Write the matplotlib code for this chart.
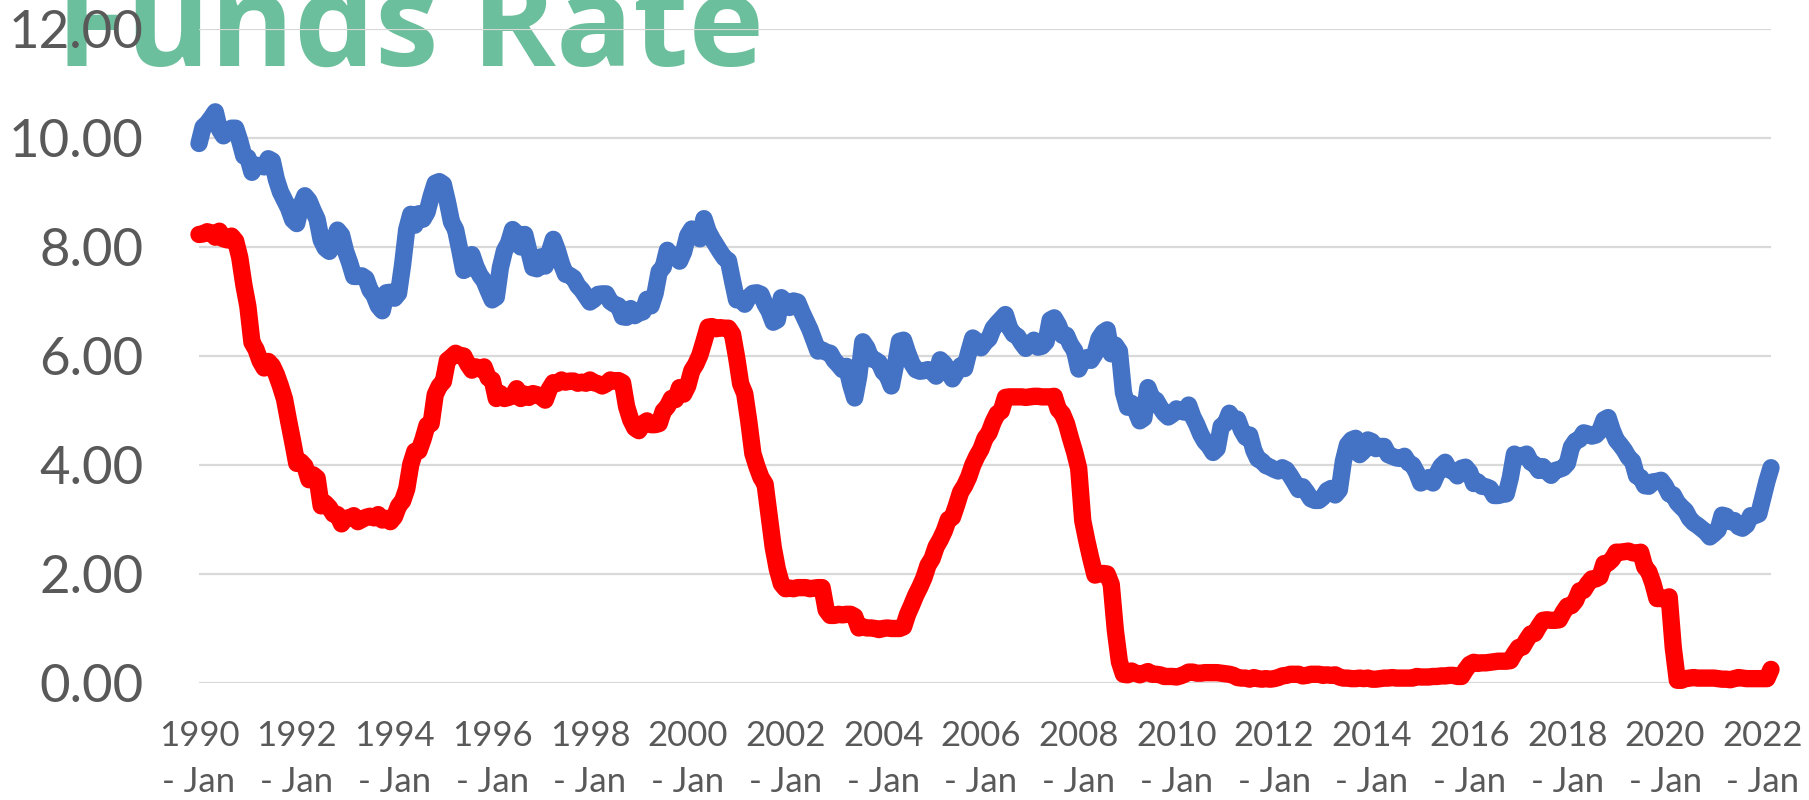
import matplotlib
matplotlib.use("Agg")
import matplotlib.pyplot as plt
import numpy as np
import pandas as pd

# Effective federal funds rate, monthly, Jan 1990 - Mar 2022
fed_funds = [
    8.23, 8.24, 8.28, 8.26, 8.18, 8.29, 8.15, 8.13, 8.20, 8.11, 7.81, 7.31,   # 1990
    6.91, 6.25, 6.12, 5.91, 5.78, 5.90, 5.82, 5.66, 5.45, 5.21, 4.81, 4.43,   # 1991
    4.03, 4.06, 3.98, 3.73, 3.82, 3.76, 3.25, 3.30, 3.22, 3.10, 3.09, 2.92,   # 1992
    3.02, 3.03, 3.07, 2.96, 3.00, 3.04, 3.06, 3.03, 3.09, 2.99, 3.02, 2.96,   # 1993
    3.05, 3.25, 3.34, 3.56, 4.01, 4.25, 4.26, 4.47, 4.73, 4.76, 5.29, 5.45,   # 1994
    5.53, 5.92, 5.98, 6.05, 6.01, 6.00, 5.85, 5.74, 5.80, 5.76, 5.80, 5.60,   # 1995
    5.56, 5.22, 5.31, 5.22, 5.24, 5.27, 5.40, 5.22, 5.30, 5.24, 5.31, 5.29,   # 1996
    5.25, 5.19, 5.39, 5.51, 5.50, 5.56, 5.52, 5.54, 5.54, 5.50, 5.52, 5.50,   # 1997
    5.56, 5.51, 5.49, 5.45, 5.49, 5.56, 5.54, 5.55, 5.51, 5.07, 4.83, 4.68,   # 1998
    4.63, 4.76, 4.81, 4.74, 4.74, 4.76, 4.99, 5.07, 5.22, 5.20, 5.42, 5.30,   # 1999
    5.45, 5.73, 5.85, 6.02, 6.27, 6.53, 6.54, 6.50, 6.52, 6.51, 6.51, 6.40,   # 2000
    5.98, 5.49, 5.31, 4.80, 4.21, 3.97, 3.77, 3.65, 3.07, 2.49, 2.09, 1.82,   # 2001
    1.73, 1.74, 1.73, 1.75, 1.75, 1.75, 1.73, 1.74, 1.75, 1.75, 1.34, 1.24,   # 2002
    1.24, 1.26, 1.25, 1.26, 1.26, 1.22, 1.01, 1.03, 1.01, 1.01, 1.00, 0.98,   # 2003
    1.00, 1.01, 1.00, 1.00, 1.00, 1.03, 1.26, 1.43, 1.61, 1.76, 1.93, 2.16,   # 2004
    2.28, 2.50, 2.63, 2.79, 3.00, 3.04, 3.26, 3.50, 3.62, 3.78, 4.00, 4.16,   # 2005
    4.29, 4.49, 4.59, 4.79, 4.94, 4.99, 5.24, 5.25, 5.25, 5.25, 5.25, 5.24,   # 2006
    5.25, 5.26, 5.26, 5.25, 5.25, 5.25, 5.26, 5.02, 4.94, 4.76, 4.49, 4.24,   # 2007
    3.94, 2.98, 2.61, 2.28, 1.98, 2.00, 2.01, 2.00, 1.81, 0.97, 0.39, 0.16,   # 2008
    0.15, 0.22, 0.18, 0.15, 0.18, 0.21, 0.16, 0.16, 0.15, 0.12, 0.12, 0.12,   # 2009
    0.11, 0.13, 0.16, 0.20, 0.20, 0.18, 0.18, 0.19, 0.19, 0.19, 0.19, 0.18,   # 2010
    0.17, 0.16, 0.14, 0.10, 0.09, 0.09, 0.07, 0.10, 0.08, 0.07, 0.08, 0.07,   # 2011
    0.08, 0.10, 0.13, 0.14, 0.16, 0.16, 0.16, 0.13, 0.14, 0.16, 0.16, 0.16,   # 2012
    0.14, 0.15, 0.14, 0.15, 0.11, 0.09, 0.09, 0.08, 0.08, 0.09, 0.08, 0.09,   # 2013
    0.07, 0.07, 0.08, 0.09, 0.09, 0.10, 0.09, 0.09, 0.09, 0.09, 0.09, 0.12,   # 2014
    0.11, 0.11, 0.11, 0.12, 0.12, 0.13, 0.13, 0.14, 0.14, 0.12, 0.12, 0.24,   # 2015
    0.34, 0.38, 0.36, 0.37, 0.37, 0.38, 0.39, 0.40, 0.40, 0.40, 0.41, 0.54,   # 2016
    0.65, 0.66, 0.79, 0.90, 0.91, 1.04, 1.15, 1.16, 1.15, 1.15, 1.16, 1.30,   # 2017
    1.41, 1.42, 1.51, 1.69, 1.70, 1.82, 1.91, 1.91, 1.95, 2.19, 2.20, 2.27,   # 2018
    2.40, 2.40, 2.41, 2.42, 2.39, 2.38, 2.40, 2.13, 2.04, 1.83, 1.55, 1.55,   # 2019
    1.55, 1.58, 0.65, 0.05, 0.05, 0.08, 0.09, 0.10, 0.09, 0.09, 0.09, 0.09,   # 2020
    0.09, 0.08, 0.07, 0.07, 0.06, 0.08, 0.10, 0.09, 0.08, 0.08, 0.08, 0.08,   # 2021
    0.08, 0.08, 0.25,                                                         # 2022
]

# 30-year fixed mortgage rate, monthly, Jan 1990 - Mar 2022
mortgage_30y = [
    9.90, 10.20, 10.27, 10.37, 10.48, 10.16, 10.04, 10.10, 10.18, 10.18, 9.95, 9.67,  # 1990
    9.64, 9.37, 9.50, 9.49, 9.47, 9.62, 9.58, 9.24, 9.01, 8.86, 8.71, 8.50,   # 1991
    8.43, 8.76, 8.94, 8.85, 8.67, 8.51, 8.13, 7.98, 7.92, 8.09, 8.31, 8.22,   # 1992
    7.92, 7.71, 7.46, 7.46, 7.47, 7.42, 7.21, 7.11, 6.92, 6.83, 7.16, 7.17,   # 1993
    7.06, 7.15, 7.68, 8.32, 8.60, 8.40, 8.61, 8.51, 8.64, 8.93, 9.17, 9.20,   # 1994
    9.15, 8.83, 8.46, 8.32, 7.96, 7.57, 7.61, 7.86, 7.64, 7.48, 7.38, 7.20,   # 1995
    7.03, 7.08, 7.62, 7.93, 8.07, 8.32, 8.25, 8.00, 8.23, 7.92, 7.62, 7.60,   # 1996
    7.82, 7.65, 7.90, 8.14, 7.94, 7.69, 7.50, 7.48, 7.43, 7.29, 7.21, 7.10,   # 1997
    6.99, 7.04, 7.13, 7.14, 7.14, 7.00, 6.95, 6.92, 6.72, 6.71, 6.87, 6.74,   # 1998
    6.79, 6.81, 7.04, 6.92, 7.15, 7.55, 7.63, 7.94, 7.82, 7.85, 7.74, 7.91,   # 1999
    8.21, 8.33, 8.24, 8.15, 8.52, 8.29, 8.15, 8.03, 7.91, 7.80, 7.75, 7.38,   # 2000
    7.03, 7.05, 6.95, 7.08, 7.15, 7.16, 7.13, 6.95, 6.82, 6.62, 6.66, 7.07,   # 2001
    7.00, 6.89, 7.01, 6.99, 6.81, 6.65, 6.49, 6.29, 6.09, 6.11, 6.07, 6.05,   # 2002
    5.92, 5.84, 5.75, 5.81, 5.48, 5.23, 5.63, 6.26, 6.15, 5.95, 5.93, 5.88,   # 2003
    5.71, 5.64, 5.45, 5.83, 6.27, 6.29, 6.06, 5.87, 5.75, 5.72, 5.73, 5.75,   # 2004
    5.71, 5.63, 5.93, 5.86, 5.72, 5.58, 5.70, 5.82, 5.77, 6.07, 6.33, 6.27,   # 2005
    6.15, 6.25, 6.32, 6.51, 6.60, 6.68, 6.76, 6.52, 6.40, 6.36, 6.24, 6.14,   # 2006
    6.22, 6.29, 6.16, 6.18, 6.26, 6.66, 6.70, 6.57, 6.38, 6.38, 6.21, 6.10,   # 2007
    5.76, 5.92, 5.97, 5.92, 6.04, 6.32, 6.43, 6.48, 6.04, 6.20, 6.09, 5.33,   # 2008
    5.06, 5.13, 5.00, 4.81, 4.86, 5.42, 5.22, 5.19, 5.06, 4.95, 4.88, 4.93,   # 2009
    5.03, 4.99, 4.97, 5.10, 4.89, 4.74, 4.56, 4.43, 4.35, 4.23, 4.30, 4.71,   # 2010
    4.76, 4.95, 4.84, 4.84, 4.64, 4.51, 4.55, 4.27, 4.11, 4.07, 3.99, 3.96,   # 2011
    3.92, 3.89, 3.95, 3.91, 3.80, 3.68, 3.55, 3.60, 3.50, 3.38, 3.35, 3.35,   # 2012
    3.41, 3.53, 3.57, 3.45, 3.54, 4.07, 4.37, 4.46, 4.49, 4.19, 4.26, 4.46,   # 2013
    4.43, 4.30, 4.34, 4.34, 4.19, 4.16, 4.13, 4.12, 4.16, 4.04, 4.00, 3.86,   # 2014
    3.67, 3.71, 3.77, 3.67, 3.84, 3.98, 4.05, 3.91, 3.89, 3.80, 3.94, 3.96,   # 2015
    3.87, 3.66, 3.69, 3.61, 3.60, 3.57, 3.44, 3.44, 3.46, 3.47, 3.77, 4.20,   # 2016
    4.15, 4.17, 4.20, 4.05, 4.01, 3.90, 3.97, 3.88, 3.81, 3.90, 3.92, 3.95,   # 2017
    4.03, 4.33, 4.44, 4.47, 4.59, 4.57, 4.53, 4.55, 4.63, 4.83, 4.87, 4.64,   # 2018
    4.46, 4.37, 4.27, 4.14, 4.07, 3.80, 3.77, 3.62, 3.61, 3.69, 3.70, 3.72,   # 2019
    3.62, 3.47, 3.45, 3.31, 3.23, 3.16, 3.02, 2.94, 2.89, 2.83, 2.77, 2.68,   # 2020
    2.74, 2.81, 3.08, 3.06, 2.96, 2.98, 2.87, 2.84, 2.90, 3.07, 3.07, 3.10,   # 2021
    3.40, 3.70, 3.95,                                                         # 2022
]

months = pd.date_range("1990-01-01", periods=len(fed_funds), freq="MS")

tick_labels = [
    "1990\n- Jan", "1992\n- Jan", "1994\n- Jan", "1996\n- Jan", "1998\n- Jan",
    "2000\n- Jan", "2002\n- Jan", "2004\n- Jan", "2006\n- Jan", "2008\n- Jan",
    "2010\n- Jan", "2012\n- Jan", "2014\n- Jan", "2016\n- Jan", "2018\n- Jan",
    "2020\n- Jan", "2022\n- Jan",
]
y_ticks = [0, 2, 4, 6, 8, 10, 12]

title_text = "Funds Rate"

GREEN = "#6cbf9c"
BLUE = "#4472c4"
RED = "#ff0000"
GRID = "#d9d9d9"
LABEL = "#595959"

fig = plt.figure(figsize=(18.09, 8.00), dpi=100)
fig.patch.set_facecolor("white")

# big title (cut off at top), drawn behind the axes
fig.text(56 / 1809, 1 - 66 / 800, title_text, fontsize=92, fontweight="bold",
         family="Open Sans", color=GREEN, ha="left", va="baseline", zorder=-1)

ax = fig.add_axes([199 / 1809, 1 - 683 / 800, (1771 - 199) / 1809, (683 - 29) / 800])
ax.patch.set_alpha(0)

x = np.arange(len(months))
ax.plot(x, mortgage_30y, color=BLUE, lw=12.5, solid_joinstyle="round",
        solid_capstyle="round", zorder=3, clip_on=False)
ax.plot(x, fed_funds, color=RED, lw=12.5, solid_joinstyle="round",
        solid_capstyle="round", zorder=4, clip_on=False)

ax.set_xlim(0, len(months) - 1)
ax.set_ylim(0, 12)

tick_pos = [i for i, d in enumerate(months) if d.month == 1 and d.year % 2 == 0]
ax.set_xticks(tick_pos)
ax.set_xticklabels(tick_labels[:len(tick_pos)], family="Lato", fontsize=25,
                   color=LABEL, linespacing=1.5)
ax.set_yticks(y_ticks)
ax.set_yticklabels([f"{v:.2f}" for v in y_ticks], family="Lato", fontsize=38,
                   color=LABEL)

ax.tick_params(axis="x", length=0, pad=27)
ax.tick_params(axis="y", length=0, pad=40)
for s in ax.spines.values():
    s.set_visible(False)
ax.grid(axis="y", color=GRID, lw=1.6, zorder=1)
ax.set_axisbelow(False)
for gl in ax.get_ygridlines():
    gl.set_zorder(1)

fig.savefig("out.png", dpi=100)
